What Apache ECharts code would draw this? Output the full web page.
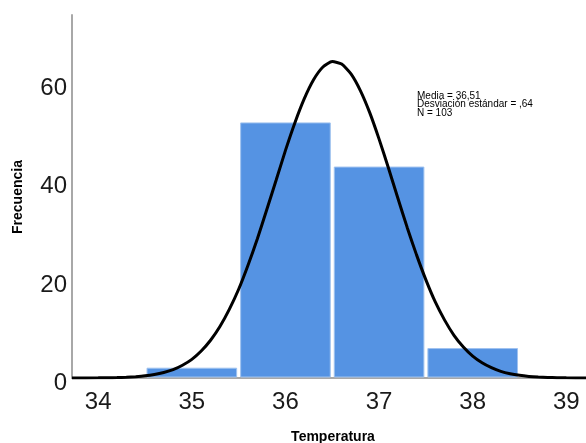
<!DOCTYPE html>
<html>
<head>
<meta charset="utf-8">
<script src="https://cdn.jsdelivr.net/npm/echarts@6/dist/echarts.min.js"></script>
<style>
html,body{margin:0;padding:0;background:#fff;}
#chart{width:586px;height:443px;}
</style>
</head>
<body>
<div id="chart"></div>
<script>
// Histogram bins (Temperatura) and counts (Frecuencia)
var binStart = [34.5, 35.5, 36.5, 37.5];
var binEnd   = [35.5, 36.5, 37.5, 38.5];
var counts   = [2, 52, 43, 6];

// Fitted normal curve
var curveX = [33.72, 34.0, 34.1, 34.2, 34.3, 34.4, 34.5, 34.6, 34.7, 34.8, 34.9,
              35.0, 35.1, 35.2, 35.3, 35.4, 35.5, 35.6, 35.7, 35.8, 35.9,
              36.0, 36.1, 36.2, 36.3, 36.4, 36.5, 36.6, 36.7, 36.8, 36.9,
              37.0, 37.1, 37.2, 37.3, 37.4, 37.5, 37.6, 37.7, 37.8, 37.9,
              38.0, 38.1, 38.2, 38.3, 38.4, 38.5, 38.6, 38.7, 38.8, 38.9,
              39.0, 39.21];
var curveY = [0.01, 0.03, 0.05, 0.09, 0.15, 0.27, 0.44, 0.72, 1.13, 1.7, 2.6,
              3.8, 5.5, 7.7, 10.5, 14.0, 18.1, 23.0, 28.4, 34.3, 40.3,
              46.4, 52.0, 56.9, 60.8, 63.4, 64.5, 64.0, 62.0, 58.6, 54.1,
              48.7, 42.8, 36.7, 30.7, 25.1, 20.0, 15.5, 11.8, 8.7, 6.3,
              4.45, 3.1, 2.1, 1.35, 0.86, 0.54, 0.33, 0.2, 0.12, 0.07,
              0.04, 0.01];

var xTicks = [34, 35, 36, 37, 38, 39];
var yTicks = [0, 20, 40, 60];

var statsText = ['Media = 36,51', 'Desviación estándar = ,64', 'N = 103'];

var barData = binStart.map(function (s, i) { return [s, binEnd[i], counts[i]]; });
var lineData = curveX.map(function (x, i) { return [x, curveY[i]]; });

var chart = echarts.init(document.getElementById('chart'), null, {renderer: 'canvas'});
var labelFont = 'Arial, "Liberation Sans", sans-serif';

chart.setOption({
  animation: false,
  backgroundColor: '#ffffff',
  grid: {left: 72, right: 0, top: 15, bottom: 65},
  xAxis: {
    type: 'value',
    min: 33.72,
    max: 39.21,
    splitLine: {show: false},
    axisLine: {show: true, onZero: false, lineStyle: {color: '#a8a8a8', width: 2}},
    axisTick: {show: false},
    axisLabel: {
      customValues: xTicks,
      fontSize: 24,
      fontFamily: labelFont,
      color: '#1a1a1a',
      margin: 12
    }
  },
  yAxis: {
    type: 'value',
    min: 0,
    max: 74,
    splitLine: {show: false},
    axisLine: {show: true, lineStyle: {color: '#a8a8a8', width: 2}},
    axisTick: {show: false},
    axisLabel: {
      customValues: yTicks,
      margin: 5,
      formatter: '{a|{value}}',
      rich: {
        a: {
          fontSize: 24,
          fontFamily: labelFont,
          color: '#1a1a1a',
          padding: [10, 0, 0, 0]
        }
      }
    }
  },
  series: [
    {
      type: 'custom',
      data: barData,
      encode: {x: [0, 1], y: 2},
      z: 2,
      renderItem: function (params, api) {
        var p0 = api.coord([api.value(0), api.value(2)]);
        var p1 = api.coord([api.value(1), 0]);
        return {
          type: 'rect',
          shape: {x: p0[0] + 2, y: p0[1], width: p1[0] - p0[0] - 4, height: p1[1] - p0[1] - 1},
          style: {fill: '#5593e3', stroke: '#9fc2ef', lineWidth: 1}
        };
      }
    },
    {
      type: 'line',
      data: lineData,
      smooth: 0.2,
      symbol: 'none',
      z: 5,
      lineStyle: {color: '#000000', width: 3}
    }
  ],
  graphic: [
    {
      type: 'text',
      x: 18, y: 197,
      rotation: Math.PI / 2,
      style: {
        text: 'Frecuencia',
        font: 'bold 14px ' + labelFont,
        fill: '#000000',
        align: 'center',
        verticalAlign: 'middle'
      }
    },
    {
      type: 'text',
      x: 333, y: 437,
      style: {
        text: 'Temperatura',
        font: 'bold 14px ' + labelFont,
        fill: '#000000',
        align: 'center',
        verticalAlign: 'middle'
      }
    },
    {
      type: 'text',
      x: 417, y: 91.5,
      style: {
        text: statsText.join('\n'),
        font: '10px ' + labelFont,
        lineHeight: 8.5,
        fill: '#000000',
        align: 'left',
        verticalAlign: 'top'
      }
    }
  ]
});
</script>
</body>
</html>
